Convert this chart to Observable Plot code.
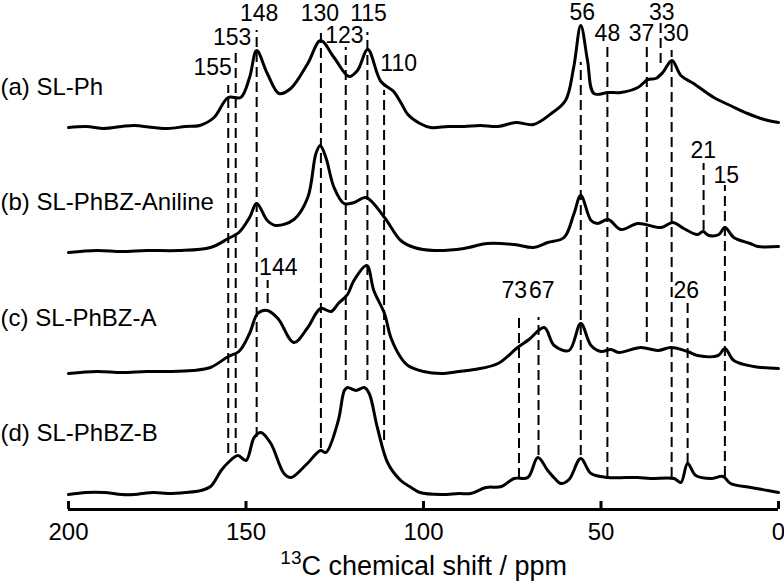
<!DOCTYPE html>
<html><head><meta charset="utf-8">
<script src="https://cdn.jsdelivr.net/npm/d3@7"></script>
<script src="https://cdn.jsdelivr.net/npm/@observablehq/plot@0.6"></script>
<style>body{margin:0;background:#fff}</style>
</head><body><div id="chart"></div>
<script>
// Spectra: chemical shift (ppm) and intensity above each trace's own baseline
const ppmA = [200,195,190,185,181.5,176,172,167,163,159,155,151.5,149,147,144,140.7,137.4,132.6,129,125.2,121,118.6,115.7,112,108.4,106.4,104.4,101,98,93,88.6,84,79,74,69,64,60,57.7,55.7,53.8,52,48,44.4,39.6,36.8,34.6,32.6,30,27.5,23.9,18.2,13,8.7,4,0];
const intA = [1,2,0,2,3,1,0,2,3,11,31,31,51,78,55,35,40,65,88,71,52,58,79,47,37,26,14,5,1,2,2,3,2,6,4,15,28,61,103,68,35,36,36,41,49,50,56,68,53,45,31,22,15,9,6];

const ppmB = [200,192,185,178,169,160,155,152,149,147,144,141.6,136.5,132.6,130.3,129.1,127.5,125.2,122.4,119.5,116.2,111,106.4,102.6,97,88.6,82,74.5,69,65,60.4,57.6,55.7,52.8,51,48,44.4,39.6,33,29.8,26.7,22.8,21.3,19.6,16.8,15.1,12.6,8,5.8,0];
const intB = [0,2,1,2,2,5,14,20,35,49,32,27,33,55,99,107,95,65,49,50,55,35,12,5,2,4,9,8,5,10,15,39,57,32,29,33,23,29,25,30,24,18,21,17,18,25,15,9,6,6];

const ppmC = [200,192,185,178,172,165,160,155,152,149,146.7,144,141,136.5,132.6,129,126,124,121.4,119.6,116,114,111,109.2,106.4,104.4,100,95,90,85.7,79,73.5,70.3,66,63.2,59,55.7,52.8,50,47.2,45,38.8,34,30.3,25.6,22.8,17,15.1,12.6,7,0];
const intC = [0,2,1,2,2,3,6,17,22,40,60,63,55,31,46,65,62,70,79,93,108,83,60,36,16,8,2,0,2,4,10,26,34,46,28,23,50,28,22,24,21,26,23,26,22,18,18,25,13,7,5];

const ppmD = [200,195,190,185,181.5,176,172,167,162.7,160,157,155,152.3,150,147.7,145.8,143,139.3,137.3,133,129,127.5,124,122.3,121.4,119,116.7,115.3,113,110,106.4,103.5,101,95,90,86.7,82.4,78,74.5,70.6,67.8,65,63,61.3,59,55.7,52.8,48,43,39.6,36,29.4,27.5,25.6,23.3,19,15.6,13.5,7.8,3,0];
const intD = [0,2,2,0,0,2,1,2,4,8,24,32,39,34,57,62,51,21,17,30,44,42,74,104,107,104,107,101,67,31,14,7,2,0,1,1,7,8,16,17,37,24,16,11,15,36,21,17,17,17,16,16,12,31,19,16,18,11,7,4,2];

const traceNames = ["(a) SL-Ph", "(b) SL-PhBZ-Aniline", "(c) SL-PhBZ-A", "(d) SL-PhBZ-B"];
const traceLabelLevel = [422, 307, 191, 76];

// Peak assignments (dashed guide lines)
const peakText   = ["155","153","148","130","123","115","110","56","48","37","33","30","21","15","144","73","67","26"];
const linePos    = [155,152.9,147,128.9,121.9,115.8,111.1,55.7,48.2,37.1,33.2,30.1,21.1,15.1,143.9,73.1,67.6,25.6];
const lineTop    = [424,461,479,479,462,477,419,447,462,462,486,459,346,324,229,194,192,209];
const lineBottom = [56,56,72,61,129,129,69,54,32,167,446,32,279,33,206,31,54,46];
const labelPos   = [159.4,153.9,146.3,129.2,122.3,115.5,107,55.3,48.2,38.6,32.9,28.9,21.2,14.7,140.9,74.4,66.7,26];
const labelLevel = [442,472,496,496,474,496,446,497,476,476,497,476,359,334,242,219,219,219];

const xTicks = [200, 150, 100, 50, 0];
const xTitleSup = "13";
const xTitle = "C chemical shift / ppm";

// stacking offsets of the four traces (vertical separation)
const stackOffset = [381, 257, 136, 15];
const series = [[ppmA, intA], [ppmB, intB], [ppmC, intC], [ppmD, intD]];
const spectra = series.flatMap(([p, v], i) => p.map((ppm, j) => ({trace: traceNames[i], ppm, y: v[j] + stackOffset[i]})));
const peaks = peakText.map((t, i) => ({text: t, pos: linePos[i], top: lineTop[i], bottom: lineBottom[i], lx: labelPos[i], ly: labelLevel[i]}));
const names = traceNames.map((n, i) => ({name: n, y: traceLabelLevel[i]}));

const font = "'Liberation Sans', Arial, Helvetica, sans-serif";

const chart = Plot.plot({
  width: 784, height: 586,
  marginTop: 0, marginBottom: 77, marginLeft: 68, marginRight: 6,
  x: {domain: [200, 0], axis: null},
  y: {domain: [0, 509], axis: null},
  style: {fontFamily: font, background: "#fff", color: "#000"},
  marks: [
    Plot.ruleX(peaks, {x: "pos", y1: "bottom", y2: "top", stroke: "#000", strokeWidth: 2, strokeDasharray: "10,5"}),
    Plot.lineY(spectra, {x: "ppm", y: "y", z: "trace", curve: "catmull-rom", stroke: "#000", strokeWidth: 3, strokeLinejoin: "round"}),
    Plot.text(peaks, {x: "lx", y: "ly", text: "text", fontSize: 23, lineAnchor: "middle", fill: "#000"}),
    Plot.text(names, {y: "y", text: "name", frameAnchor: "left", dx: -68, textAnchor: "start", lineAnchor: "middle", fontSize: 24, fill: "#000"}),
    Plot.ruleY([0], {stroke: "#000", strokeWidth: 3}),
    Plot.ruleX(xTicks, {x: d => d, y1: 0, y2: 8, stroke: "#000", strokeWidth: 3}),
    Plot.text(xTicks, {x: d => d, y: 0, dy: 23, text: d => String(d), fontSize: 24, lineAnchor: "middle", fill: "#000"}),
    Plot.text([xTitleSup], {frameAnchor: "bottom", dx: -122, dy: 48, text: d => d, textAnchor: "end", fontSize: 19, lineAnchor: "middle", fill: "#000"}),
    Plot.text([xTitle], {frameAnchor: "bottom", dx: -122, dy: 57, text: d => d, textAnchor: "start", fontSize: 27, lineAnchor: "middle", fill: "#000"})
  ]
});
document.getElementById("chart").appendChild(chart);
</script></body></html>
